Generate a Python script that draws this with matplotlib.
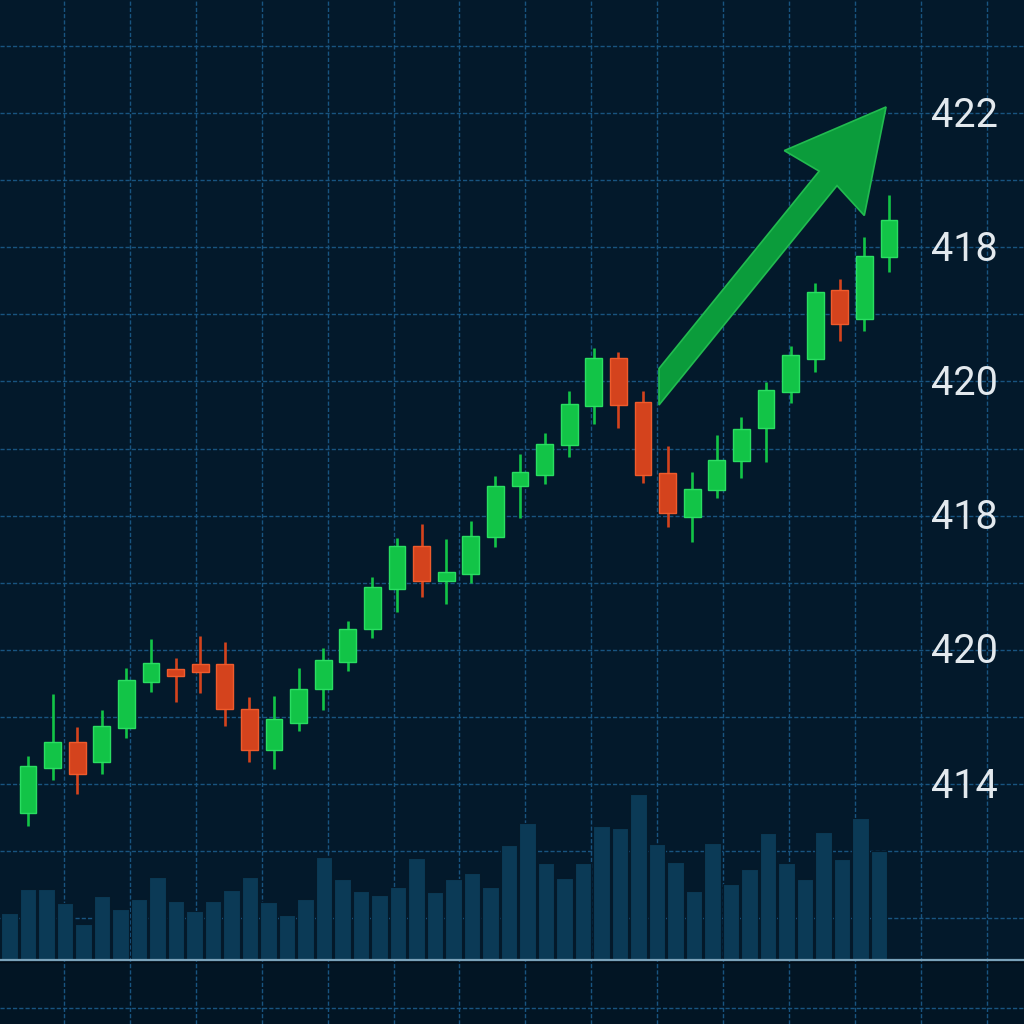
import numpy as np
import matplotlib
matplotlib.use("Agg")
import matplotlib.pyplot as plt
from matplotlib.patches import Polygon

# ---------------- data ----------------
opens  = [409.57, 410.24, 410.63, 410.33, 410.83, 411.52, 411.71, 411.79, 411.79, 411.12,
          410.51, 410.91, 411.42, 411.82, 412.31, 412.91, 413.55, 413.03, 413.13, 413.68,
          414.44, 414.61, 415.05, 415.63, 416.35, 415.69, 414.63, 413.98, 414.38, 414.81,
          415.31, 415.84, 416.33, 417.36, 416.93, 417.85]
highs  = [410.42, 411.34, 410.85, 411.10, 411.73, 412.16, 411.88, 412.21, 412.12, 411.30,
          411.31, 411.73, 412.03, 412.43, 413.08, 413.67, 413.87, 413.65, 413.92, 414.59,
          414.92, 415.23, 415.86, 416.50, 416.44, 415.86, 415.04, 414.65, 415.20, 415.47,
          415.99, 416.53, 417.47, 417.53, 418.15, 418.78]
lows   = [409.37, 410.06, 409.85, 410.15, 410.69, 411.37, 411.22, 411.36, 410.86, 410.33,
          410.22, 410.79, 411.10, 411.68, 412.18, 412.56, 412.79, 412.68, 413.00, 413.53,
          413.96, 414.47, 414.87, 415.37, 415.31, 414.49, 413.83, 413.61, 414.26, 414.56,
          414.80, 415.68, 416.14, 416.60, 416.75, 417.63]
closes = [410.27, 410.63, 410.15, 410.86, 411.55, 411.80, 411.61, 411.67, 411.12, 410.51,
          410.97, 411.42, 411.85, 412.31, 412.94, 413.55, 413.03, 413.16, 413.70, 414.44,
          414.65, 415.07, 415.66, 416.35, 415.65, 414.61, 414.04, 414.40, 414.83, 415.29,
          415.87, 416.39, 417.33, 416.86, 417.87, 418.41]

volumes = [47, 71, 71, 57, 36, 64, 51, 61, 83, 59, 49, 59, 70, 83, 58, 45,
           61, 103, 81, 69, 65, 73, 102, 68, 81, 87, 73, 115, 137, 97, 82, 97,
           134, 132, 166, 116, 98, 69, 117, 76, 91, 127, 97, 81, 128, 101, 142, 109]

label_prices = [420, 418, 416, 414, 412, 410]
label_texts = ["422", "418", "420", "418", "420", "414"]

arrow_tail = (25.65, 415.92)
arrow_tip = (34.88, 420.09)

# ---------------- style ----------------
BG = "#03192b"
BG_LOW = "#021524"
GRID = "#185480"
GREEN = "#12c447"
GREEN_EDGE = "#2ade62"
RED = "#d4431d"
RED_EDGE = "#ef5b2c"
VOL = "#0b3a56"
ARROW = "#0b9c3b"
ARROW_EDGE = "#22bb50"

W = H = 1024
fig = plt.figure(figsize=(10.24, 10.24), dpi=100)
fig.patch.set_facecolor(BG)

ax = fig.add_axes([0, 0, 1, 1])
ax.set_facecolor(BG)
pitch = 24.6
x0 = 28
ax.set_xlim(-x0 / pitch, (W - x0) / pitch)
ppu = 67.1
ax.set_ylim(410 - (H - 784) / ppu, 410 + 784 / ppu)
ax.axis("off")

# slightly darker area below the volume baseline
ax.axhspan(ax.get_ylim()[0], 410 - (960 - 784) / ppu, color=BG_LOW, zorder=0)

# grid
gx0 = (64 - x0) / pitch
gstep = 65.9 / pitch
for gx in gx0 + gstep * np.arange(-1, 15):
    ax.axvline(gx, color=GRID, lw=1.0, ls=(0, (3, 1.5)), zorder=1)
for gy in list(range(408, 422)) + [410 - (1008 - 784) / ppu]:
    ax.axhline(gy, color=GRID, lw=1.0, ls=(0, (3, 1.5)), zorder=1)

# candles
idx = np.arange(len(opens))
o = np.array(opens); c = np.array(closes)
hi = np.array(highs); lo = np.array(lows)
up = c >= o
cols = np.where(up, GREEN, RED)
ecols = np.where(up, GREEN_EDGE, RED_EDGE)
ax.vlines(idx, lo, hi, colors=cols, lw=1.9, zorder=3)
ax.bar(idx, np.abs(c - o), bottom=np.minimum(o, c), width=0.69,
       color=cols, edgecolor=ecols, linewidth=1.0, zorder=4)

# arrow (shape built in display pixels from the data anchors)
T = ax.transData.transform(arrow_tail)
P = ax.transData.transform(arrow_tip)
u = (P - T) / np.linalg.norm(P - T)
n = np.array([-u[1], u[0]])
hl, hw, sw = 98.0, 103.0, 23.0
B = P - hl * u
Bs = B + 6 * u
def tail_pt(d):
    t = -d * n[0] / u[0]
    return T + d * n + t * u
pts = [tail_pt(sw / 2), Bs + sw / 2 * n, B + hw / 2 * n, P,
       B - hw / 2 * n, Bs - sw / 2 * n, tail_pt(-sw / 2)]
pts = ax.transData.inverted().transform(np.array(pts))
ax.add_patch(Polygon(pts, closed=True, facecolor=ARROW, edgecolor=ARROW_EDGE,
                     lw=1.2, zorder=5))

# price labels
lx = (964 - x0) / pitch
for p, s in zip(label_prices, label_texts):
    ax.text(lx, p - 0.03, s, ha="center", va="center", fontsize=28.5,
            color="#e3e9ee", family=["Roboto", "DejaVu Sans"], zorder=6)

# volume
vax = fig.add_axes([0, 0, 1, 1])
vax.patch.set_alpha(0)
vpitch = 18.5
vx0 = 9.5
vax.set_xlim(-vx0 / vpitch, (W - vx0) / vpitch)
vax.set_ylim(-(H - 960), 960)
vax.axis("off")
vax.bar(np.arange(len(volumes)), volumes, width=0.89, color=VOL,
        edgecolor="#04192a", linewidth=0.8, zorder=2)
vax.axhline(0, color="#7aa2ba", lw=1.6, zorder=3)
vax.axhline(-1.8, color="#010c16", lw=1.0, zorder=3)

fig.savefig("out.png", dpi=100, facecolor=BG)
